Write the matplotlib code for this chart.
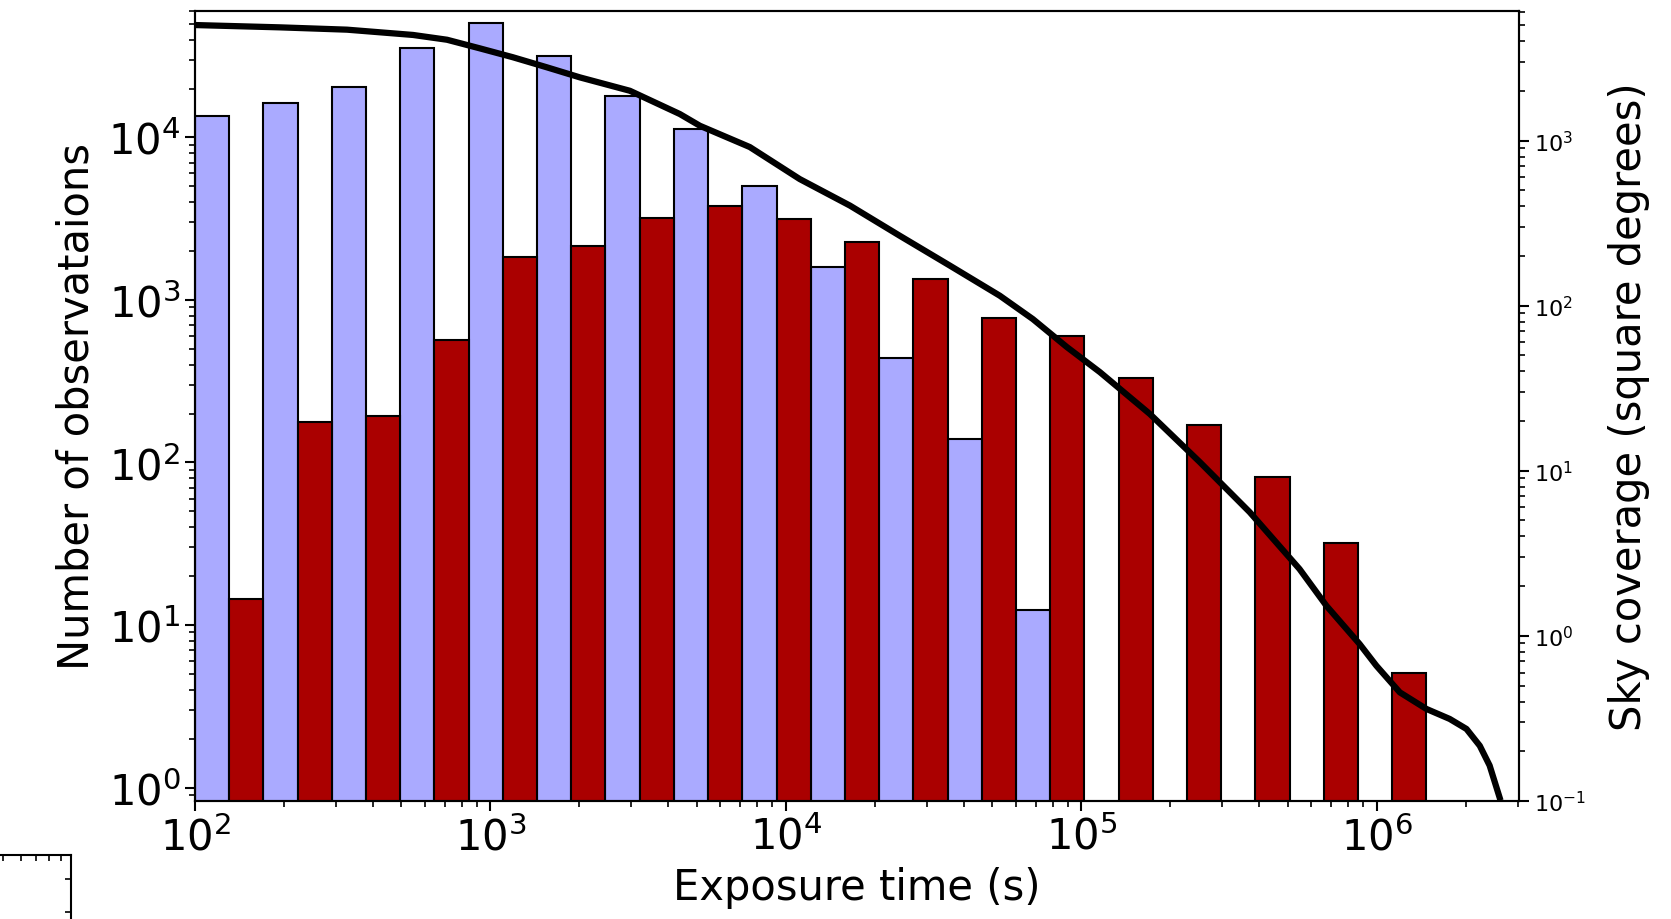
import numpy as np
import matplotlib.pyplot as plt

# Histogram bins (log spaced) and counts
bin_edges = np.logspace(2, 6.4, 20)
blue_counts = [13600, 16300, 20400, 35400, 50500, 31900, 17900, 11200,
               5000, 1590, 440, 140, 12.3]
red_counts = [14.5, 177, 194, 568, 1845, 2150, 3200, 3760, 3150, 2270,
              1350, 776, 604, 332, 171, 81, 32, 5.1]

# Sky coverage curve
exposure = [100, 194, 327, 547, 713, 920, 1191, 1552, 2009, 2965, 4375,
            5117, 7551, 11140, 16480, 24320, 35890, 52970, 68550, 89330,
            115600, 170600, 251800, 371500, 548000, 676000, 875000,
            997000, 1.197e6, 1.473e6, 1.766e6, 2.013e6, 2.233e6, 2.411e6,
            2.606e6]
coverage = [5012, 4853, 4699, 4365, 4083, 3622, 3199, 2780, 2415, 2004,
            1449, 1230, 914, 585, 404, 265, 175, 115, 83, 56.2, 39.6, 22.1,
            11.3, 5.62, 2.54, 1.52, 0.893, 0.660, 0.455, 0.361, 0.314,
            0.273, 0.216, 0.164, 0.105]

fig = plt.figure(figsize=(16.71, 9.2), dpi=100)
ax = fig.add_axes([0.1167, 0.1283, 0.7923, 0.8587])

mids = np.sqrt(bin_edges[:-1] * bin_edges[1:])
nb = len(blue_counts)
nr = len(red_counts)
ax.bar(bin_edges[:nb], blue_counts, width=mids[:nb] - bin_edges[:nb],
       align='edge', color='#aaaaff', edgecolor='black', linewidth=1.5)
ax.bar(mids[:nr], red_counts, width=bin_edges[1:nr + 1] - mids[:nr],
       align='edge', color='#aa0000', edgecolor='black', linewidth=1.5)

ax.set_xscale('log')
ax.set_yscale('log')
ax.set_xlim(100, 3.03e6)
ax.set_ylim(0.827, 6.0e4)
ax.set_xlabel('Exposure time (s)', fontsize=30, labelpad=6)
ax.set_ylabel('Number of observataions', fontsize=30, labelpad=8)
ax.tick_params(which='major', labelsize=30, length=7, width=1.5)
ax.tick_params(which='minor', length=4, width=1.2)
for s in ax.spines.values():
    s.set_linewidth(1.5)

ax_r = ax.twinx()
ax_r.plot(exposure, coverage, color='black', lw=4.5)
ax_r.set_yscale('log')
ax_r.set_ylim(0.1, 6100)
ax_r.set_xlim(100, 3.03e6)
ax_r.set_ylabel('Sky coverage (square degrees)', fontsize=30, labelpad=16)
ax_r.tick_params(which='major', labelsize=16, length=7, width=1.5)
ax_r.tick_params(which='minor', length=4, width=1.2)
for s in ax_r.spines.values():
    s.set_linewidth(1.5)

# stray corner of another panel, bottom left
ax_c = fig.add_axes([-0.3, -0.3, 0.3425, 0.3696])
ax_c.set_xscale('log')
ax_c.set_xlim(10 ** (1 - 2.54), 10)
ax_c.set_ylim(0, 340)
ax_c.set_yticks([316, 283, 250, 217, 184])
ax_c.tick_params(which='both', direction='in', top=True, right=True,
                 bottom=False, left=False, labelbottom=False,
                 labelleft=False, length=4, width=1.2)
for s in ax_c.spines.values():
    s.set_linewidth(1.5)

fig.savefig('out.png', dpi=100)
